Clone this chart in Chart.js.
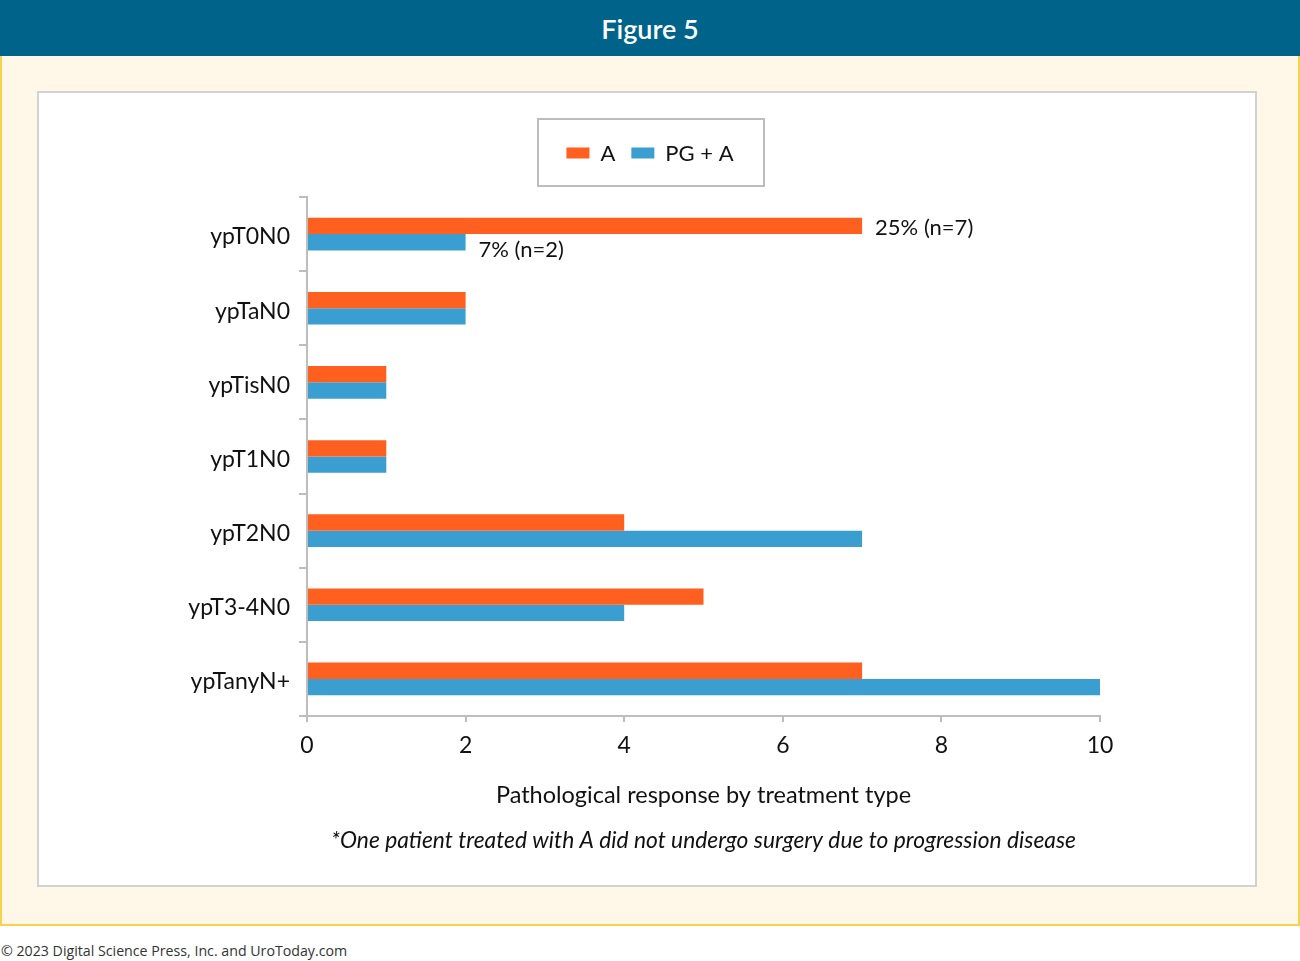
<!DOCTYPE html>
<html>
<head>
<meta charset="utf-8">
<script src="https://cdn.jsdelivr.net/npm/chart.js@4.4.1/dist/chart.umd.min.js"></script>
<style>
  html, body { margin: 0; padding: 0; background: #ffffff; width: 1300px; height: 961px; overflow: hidden; font-family: Lato, "Open Sans", sans-serif; }
  #header { position: absolute; left: 0; top: 0; width: 1300px; height: 56px; background: #00638a; color: #fff; text-align: center; font: 600 27px Lato, sans-serif; line-height: 58px; }
  #cream { position: absolute; left: 0; top: 56px; width: 1300px; height: 870px; background: #fff8e9; border: 2px solid #f7d24b; border-top: none; box-sizing: border-box; }
  #panel { position: absolute; left: 37px; top: 91px; width: 1220px; height: 796px; background: #fff; border: 2px solid #d2d2d2; box-sizing: border-box; }
  #wrap { position: absolute; left: 0; top: 0; width: 1216px; height: 792px; }
  #copy { position: absolute; left: 1px; top: 941px; font: 14.2px "Open Sans", sans-serif; color: #333; }
</style>
</head>
<body>
<div id="header">Figure 5</div>
<div id="cream"></div>
<div id="panel"><div id="wrap"><canvas id="c" width="1216" height="792"></canvas></div></div>
<div id="copy">© 2023 Digital Science Press, Inc. and UroToday.com</div>
<script>
const categories = ["ypT0N0", "ypTaN0", "ypTisN0", "ypT1N0", "ypT2N0", "ypT3-4N0", "ypTanyN+"];
const seriesNames = ["A", "PG + A"];
const valuesA = [7, 2, 1, 1, 4, 5, 7];
const valuesPGA = [2, 2, 1, 1, 7, 4, 10];
const labelsA = ["25% (n=7)", null, null, null, null, null, null];
const labelsPGA = ["7% (n=2)", null, null, null, null, null, null];
const xTicks = [0, 2, 4, 6, 8, 10];
const xTitle = "Pathological response by treatment type";
const footnote = "*One patient treated with A did not undergo surgery due to progression disease";

const ORANGE = "#ff5f1f";
const BLUE = "#3a9fd0";
const AXIS = "#bdbdbd";
const FONT = "Lato, 'Open Sans', sans-serif";

const legendBox = {
  id: "legendBox",
  afterDraw(chart) {
    const ctx = chart.ctx;
    const ds = chart.data.datasets;
    ctx.save();
    ctx.font = "22px " + FONT;
    const sw = 23, sh = 11, gap = 11, spacing = 16;
    let total = 0;
    ds.forEach((d, i) => { total += sw + gap + ctx.measureText(d.label).width + (i < ds.length - 1 ? spacing : 0); });
    const cx = 611, cy = 60;
    let x = cx - total / 2;
    ctx.strokeStyle = "#bdbdbd";
    ctx.lineWidth = 2;
    ctx.strokeRect(499, 26, 226, 67);
    ctx.textBaseline = "middle";
    ds.forEach((d, i) => {
      ctx.fillStyle = d.backgroundColor;
      ctx.fillRect(x, cy - sh / 2, sw, sh);
      x += sw + gap;
      ctx.fillStyle = "#111";
      ctx.fillText(d.label, x, cy + 1);
      x += ctx.measureText(d.label).width + spacing;
    });
    ctx.restore();
  }
};

const footnotePlugin = {
  id: "footnotePlugin",
  afterDraw(chart) {
    const ctx = chart.ctx;
    const a = chart.chartArea;
    ctx.save();
    ctx.font = "italic 22.8px " + FONT;
    ctx.fillStyle = "#111";
    ctx.textAlign = "center";
    ctx.textBaseline = "middle";
    ctx.fillText(footnote, (a.left + a.right) / 2, 748);
    ctx.restore();
  }
};

const barLabels = {
  id: "barLabels",
  afterDatasetsDraw(chart) {
    const ctx = chart.ctx;
    const sets = [labelsA, labelsPGA];
    const dy = [2, 8];
    ctx.save();
    ctx.font = "22px " + FONT;
    ctx.fillStyle = "#111";
    ctx.textBaseline = "middle";
    sets.forEach((lbls, di) => {
      const meta = chart.getDatasetMeta(di);
      lbls.forEach((t, i) => {
        if (!t) return;
        const el = meta.data[i];
        ctx.fillText(t, el.x + 13, el.y + dy[di]);
      });
    });
    ctx.restore();
  }
};

new Chart(document.getElementById("c"), {
  type: "bar",
  data: {
    labels: categories,
    datasets: [
      { label: seriesNames[0], data: valuesA, backgroundColor: ORANGE, categoryPercentage: 0.44, barPercentage: 1.0 },
      { label: seriesNames[1], data: valuesPGA, backgroundColor: BLUE, categoryPercentage: 0.44, barPercentage: 1.0 }
    ]
  },
  options: {
    indexAxis: "y",
    responsive: false,
    animation: false,
    layout: { padding: { top: 104, right: 155, left: 0, bottom: 57 } },
    plugins: {
      legend: { display: false },
      tooltip: { enabled: false }
    },
    scales: {
      y: {
        afterFit(s) { s.width = 268; },
        border: { color: AXIS, width: 2 },
        grid: { drawOnChartArea: false, color: AXIS, lineWidth: 2, tickLength: 8, offset: true },
        ticks: { color: "#111", font: { family: FONT, size: 23 }, padding: 9, labelOffset: 3 }
      },
      x: {
        min: 0, max: 10,
        afterBuildTicks(s) { s.ticks = xTicks.map(v => ({ value: v })); },
        afterFit(s) { s.height = 112; },
        border: { color: AXIS, width: 2 },
        grid: { drawOnChartArea: false, color: AXIS, lineWidth: 2, tickLength: 6 },
        ticks: { color: "#111", font: { family: FONT, size: 23 }, padding: 10 },
        title: { display: true, text: xTitle, color: "#111", font: { family: FONT, size: 23.5 }, padding: { top: 16, bottom: 18 } }
      }
    }
  },
  plugins: [legendBox, barLabels, footnotePlugin]
});
</script>
</body>
</html>
